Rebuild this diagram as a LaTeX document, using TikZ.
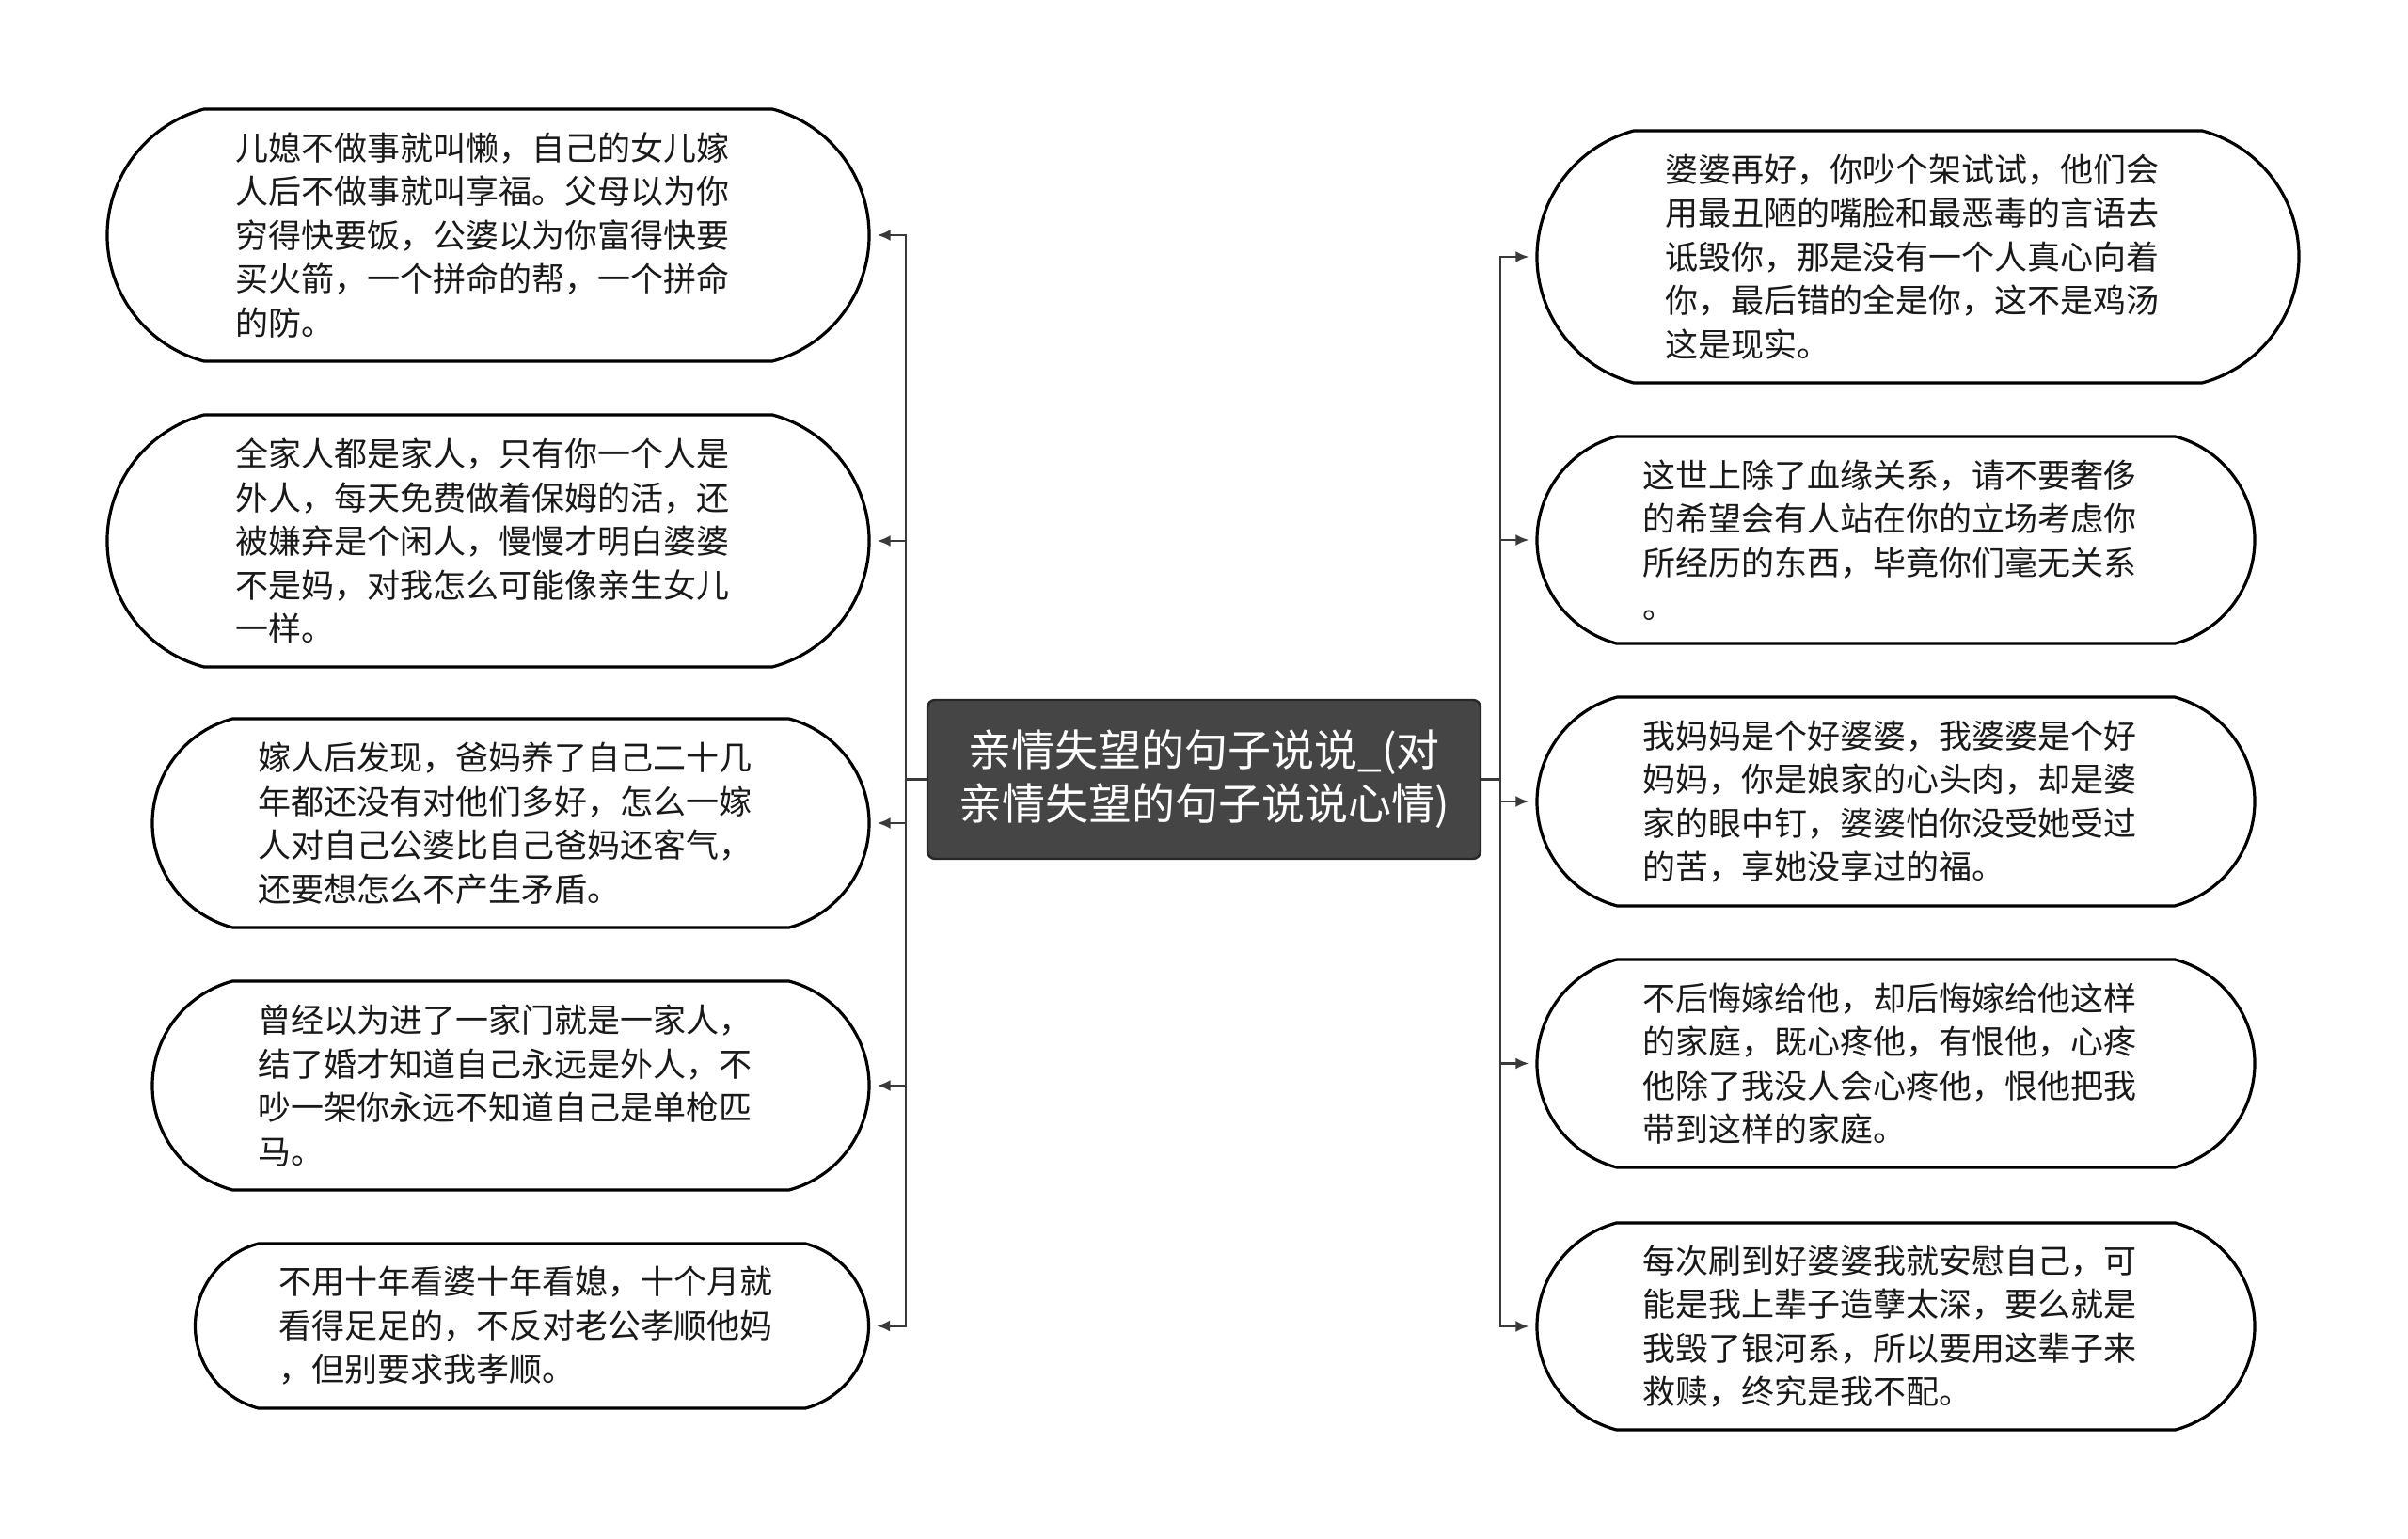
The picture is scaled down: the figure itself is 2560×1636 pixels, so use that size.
\documentclass[tikz,border=0pt]{standalone}
\usepackage{fontspec}
\newfontfamily\cjk{Noto Sans CJK SC}
\usetikzlibrary{shapes.misc,arrows.meta}
\definecolor{rootfill}{HTML}{454545}
\definecolor{linegray}{HTML}{3a3a3a}
\tikzset{
  leaf/.style={rounded rectangle, rounded rectangle arc length=150, draw=black, line width=1.6pt, fill=white,
    font=\cjk\fontsize{17.5}{23.25}\selectfont, text=black!90, text width=269pt, align=left, inner sep=0pt},
  root/.style={rectangle, rounded corners=4pt, draw=black!85, line width=1.2pt, fill=rootfill, text=white,
    font=\cjk\fontsize{23}{28.5}\selectfont, align=center, minimum width=294pt, minimum height=84.5pt},
  conn/.style={draw=linegray, line width=1.3pt, -{Latex[length=7pt,width=6pt]}, shorten >=3.5pt}
}
\begin{document}
\begin{tikzpicture}[x=0.5pt,y=-0.5pt]
\useasboundingbox (0,0) rectangle (2560,1636);
\node[root] (root) at (1280,828.5) {亲情失望的句子说说\_(对\\亲情失望的句子说说心情)};

\node[leaf, minimum width=405pt, minimum height=134pt] (L1) at (519,250) {儿媳不做事就叫懒，自己的女儿嫁\\人后不做事就叫享福。父母以为你\\穷得快要饭，公婆以为你富得快要\\买火箭，一个拼命的帮，一个拼命\\的防。};
\node[leaf, minimum width=405pt, minimum height=134pt] (L2) at (519,575) {全家人都是家人，只有你一个人是\\外人，每天免费做着保姆的活，还\\被嫌弃是个闲人，慢慢才明白婆婆\\不是妈，对我怎么可能像亲生女儿\\一样。};
\node[leaf, minimum width=381pt, minimum height=111pt] (L3) at (543,875) {嫁人后发现，爸妈养了自己二十几\\年都还没有对他们多好，怎么一嫁\\人对自己公婆比自己爸妈还客气，\\还要想怎么不产生矛盾。};
\node[leaf, minimum width=381pt, minimum height=111pt] (L4) at (543,1154) {曾经以为进了一家门就是一家人，\\结了婚才知道自己永远是外人，不\\吵一架你永远不知道自己是单枪匹\\马。};
\node[leaf, minimum width=358pt, minimum height=87.5pt] (L5) at (565.5,1409.5) {不用十年看婆十年看媳，十个月就\\看得足足的，不反对老公孝顺他妈\\，但别要求我孝顺。};

\node[leaf, minimum width=405pt, minimum height=134pt] (R1) at (2039,273) {婆婆再好，你吵个架试试，他们会\\用最丑陋的嘴脸和最恶毒的言语去\\诋毁你，那是没有一个人真心向着\\你，最后错的全是你，这不是鸡汤\\这是现实。};
\node[leaf, minimum width=381.5pt, minimum height=110pt] (R2) at (2015.5,574) {这世上除了血缘关系，请不要奢侈\\的希望会有人站在你的立场考虑你\\所经历的东西，毕竟你们毫无关系\\。};
\node[leaf, minimum width=381.5pt, minimum height=111pt] (R3) at (2015.5,852) {我妈妈是个好婆婆，我婆婆是个好\\妈妈，你是娘家的心头肉，却是婆\\家的眼中钉，婆婆怕你没受她受过\\的苦，享她没享过的福。};
\node[leaf, minimum width=381.5pt, minimum height=110.5pt] (R4) at (2015.5,1130.5) {不后悔嫁给他，却后悔嫁给他这样\\的家庭，既心疼他，有恨他，心疼\\他除了我没人会心疼他，恨他把我\\带到这样的家庭。};
\node[leaf, minimum width=381.5pt, minimum height=110pt] (R5) at (2015.5,1410) {每次刷到好婆婆我就安慰自己，可\\能是我上辈子造孽太深，要么就是\\我毁了银河系，所以要用这辈子来\\救赎，终究是我不配。};

\coordinate (lj) at (963,828.5);
\coordinate (rj) at (1595,828.5);
\foreach \n in {L1,L2,L3,L4,L5}
  \draw[conn] (root.west) -- (lj) |- (\n.east);
\foreach \n in {R1,R2,R3,R4,R5}
  \draw[conn] (root.east) -- (rj) |- (\n.west);
\end{tikzpicture}
\end{document}
